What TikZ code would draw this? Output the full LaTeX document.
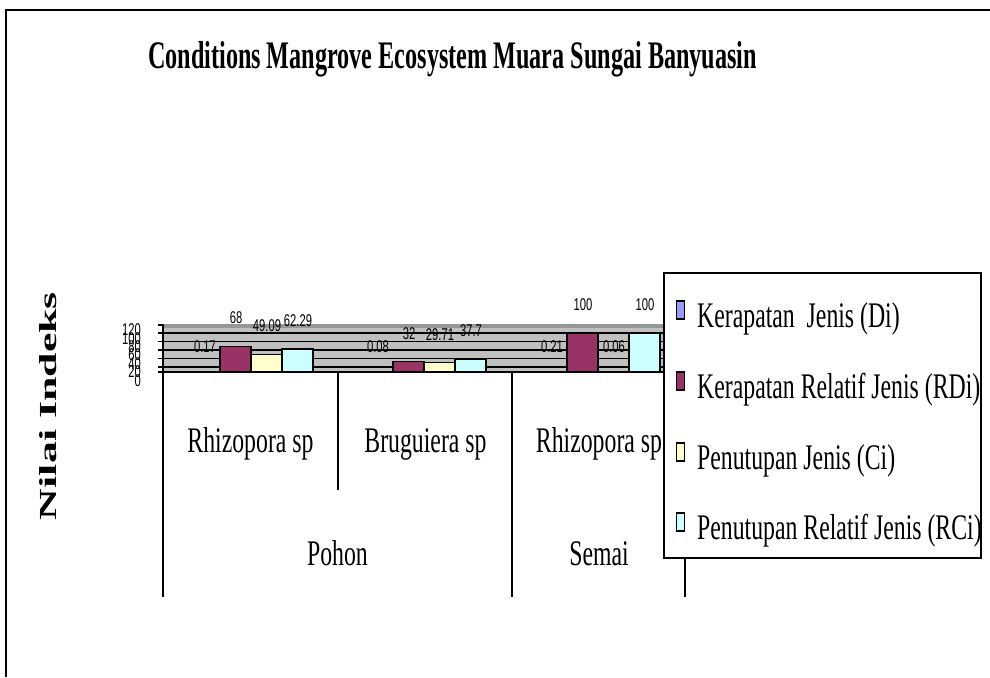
\documentclass[tikz,border=0pt]{standalone}
\usepackage{fontspec}
\usepackage{graphicx}
\setmainfont{Liberation Serif}
\newfontfamily\arialf{Liberation Sans}
\definecolor{plotgray}{RGB}{192,192,192}
\definecolor{stripgray}{RGB}{150,150,150}
\definecolor{sDi}{RGB}{153,153,255}
\definecolor{sRDi}{RGB}{153,51,102}
\definecolor{sCi}{RGB}{255,255,204}
\definecolor{sRCi}{RGB}{204,255,255}
\newcommand{\cnd}[1]{\scalebox{0.66}[1]{#1}}
\tikzset{
  bigtext/.style={inner sep=0pt, font=\fontsize{36}{36}\selectfont},
  numtext/.style={inner sep=0pt, font=\arialf\fontsize{17}{17}\selectfont},
  barbox/.style={draw=black, line width=1.3pt},
  gridln/.style={line width=1.5pt, black},
  divln/.style={line width=1.5pt, black},
  legmark/.style={draw=black, line width=1.5pt},
}
\begin{document}
\begin{tikzpicture}[x=1pt,y=-1pt]
\useasboundingbox (0,0) rectangle (990,677);
\fill[white] (0,0) rectangle (990,677);
% outer frame
\draw[line width=2pt] (6,677) -- (6,10) -- (990,10);
% title
\node[inner sep=0pt, font=\fontsize{39}{39}\selectfont\bfseries, anchor=base] (title) at (452.5,69)
  {\scalebox{0.62}[1]{Conditions Mangrove Ecosystem Muara Sungai Banyuasin}};
% y-axis title
\node[inner sep=0pt, rotate=90] (ytitle) at (48,406)
  {\resizebox{228pt}{17pt}{\bfseries Nilai Indeks}};
% plot area
\fill[plotgray] (163,324) rectangle (685,372);
\fill[stripgray] (163,324) rectangle (685,327.5);
\foreach \v in {20,40,60,80,100}{
  \draw[gridln] (163,{375.2-0.42*\v}) -- (685,{375.2-0.42*\v});
}
\foreach \v in {20,40,60,80,100,120}{
  \draw[line width=1.5pt] (158,{375.2-0.42*\v}) -- (163,{375.2-0.42*\v});
}
\draw[line width=1.5pt] (158,372) -- (163,372);
% tick labels
\foreach \v in {0,20,40,60,80,100,120}{
  \node[numtext, anchor=east] (tick\v) at (141,{380.2-0.42*\v}) {\cnd{\v}};
}
% bars: group starts 189, 362, 536; bar width 31
\foreach \x/\v/\c in {220/68/sRDi, 251/49.09/sCi, 282/62.29/sRCi,
                      393/32/sRDi, 424/29.71/sCi, 455/37.7/sRCi,
                      567/100/sRDi, 629/100/sRCi}{
  \draw[barbox, fill=\c] (\x,372) rectangle ({\x+31},{375.2-0.42*\v});
}
% value labels
\foreach \n/\x/\v/\t in {a/205/0.17/0.17, b/236/68/68, c/267/49.09/49.09, d/298/62.29/62.29,
                         e/378/0.08/0.08, f/409/32/32, g/440/29.71/29.71, h/471/37.7/37.7,
                         i/552/0.21/0.21, j/583/100/100, k/614/0.06/0.06, l/645/100/100}{
  \node[numtext] (val\n) at (\x,{375.2-0.42*\v-28.5}) {\cnd{\t}};
}
% axes
\draw[line width=2pt] (163,372) -- (685,372);
\draw[line width=1.5pt] (163,324) -- (163,372);
% category dividers
\coordinate (d0t) at (163,372); \coordinate (d0b) at (163,597);
\coordinate (d1t) at (338,372); \coordinate (d1b) at (338,490);
\coordinate (d2t) at (512,372); \coordinate (d2b) at (512,597);
\coordinate (d3t) at (685,372); \coordinate (d3b) at (685,597);
\draw[divln] (d0t) -- (d0b);
\draw[divln] (d1t) -- (d1b);
\draw[divln] (d2t) -- (d2b);
\draw[divln] (d3t) -- (d3b);
% category labels
\node[bigtext, anchor=base] (cat1) at (250.5,452) {\cnd{Rhizopora sp}};
\node[bigtext, anchor=base] (cat2) at (425.5,452) {\cnd{Bruguiera sp}};
\node[bigtext, anchor=base] (cat3) at (599,452) {\cnd{Rhizopora sp}};
\node[bigtext, anchor=base] (grp1) at (337.5,565) {\cnd{Pohon}};
\node[bigtext, anchor=base] (grp2) at (599,565) {\cnd{Semai}};
% legend
\fill[black] (665,274) rectangle (982,559);
\node[draw=black, fill=white, line width=2pt, inner sep=0pt, minimum width=317pt,
      minimum height=285pt, anchor=north west] (legend) at (663,272) {};
\foreach \b/\c/\t in {327/sDi/{Kerapatan\ \ Jenis (Di)},
                      398/sRDi/{Kerapatan Relatif Jenis (RDi)},
                      469/sCi/{Penutupan Jenis (Ci)},
                      539/sRCi/{Penutupan Relatif Jenis (RCi)}}{
  \draw[legmark, fill=\c] (676.5,\b-26) rectangle (684.5,\b-8);
  \node[bigtext, anchor=base west] (leg\b) at (697,\b) {\cnd{\t}};
}
\end{tikzpicture}
\end{document}
